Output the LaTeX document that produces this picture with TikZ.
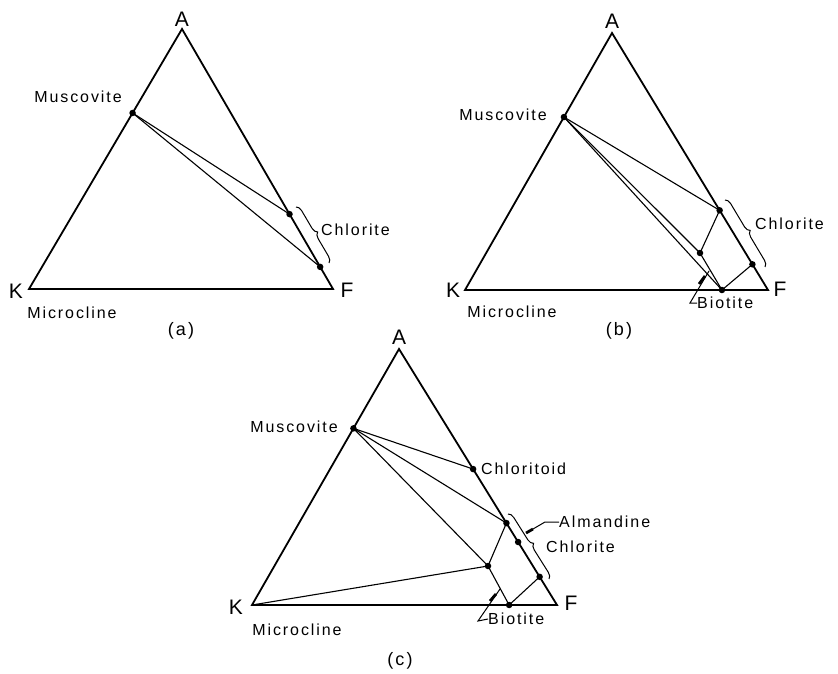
\documentclass[tikz,border=0pt]{standalone}
\usepackage{fontspec}
\setmainfont{Liberation Sans}
\newfontfamily\labfont[LetterSpace=12]{Liberation Sans}
\newfontfamily\vtxfont[LetterSpace=0]{Liberation Sans}
\usetikzlibrary{calc,decorations.pathreplacing}
\begin{document}
\begin{tikzpicture}[x=1pt,y=-1pt,
  edge/.style={line width=1.8pt,line join=miter},
  tie/.style={line width=1.1pt},
  dot/.style={circle,fill,inner sep=0pt,minimum size=6.5pt},
  lbl/.style={font=\labfont\fontsize{16}{19}\selectfont,inner sep=0pt},
  vtx/.style={font=\vtxfont\fontsize{21}{25}\selectfont,inner sep=0pt},
  capt/.style={font=\labfont\fontsize{18}{21}\selectfont,inner sep=0pt},
  brc/.style={decorate,decoration={brace,amplitude=6pt},line width=1pt},
  tick/.style={line width=2.8pt},
  lead/.style={line width=1pt,line join=miter}]
\fill[white] (0,0) rectangle (838,674);
\useasboundingbox (0,0) rectangle (838,674);

% ---------------- (a) ----------------
\coordinate (aK) at (29,289);
\coordinate (aF) at (333,289);
\coordinate (aA) at (182,29);
\draw[edge] (aK) -- (aA) -- (aF) -- cycle;
\node[dot] (aMu) at ($(aK)!0.677!(aA)$) {};
\node[dot] (aC1) at ($(aA)!0.712!(aF)$) {};
\node[dot] (aC2) at ($(aA)!0.915!(aF)$) {};
\draw[tie] (aMu.center) -- (aC1.center);
\draw[tie] (aMu.center) -- (aC2.center);
\coordinate (aB1) at (296,207);
\coordinate (aB2) at (329,263);
\draw[brc] (aB1) -- (aB2);
\node[vtx] (aAL) at (182,19) {A};
\node[vtx] (aKL) at (16,291) {K};
\node[vtx] (aFL) at (347,290) {F};
\node[lbl] (aMuL) at (78,97) {Muscovite};
\node[lbl,anchor=west] (aChL) at (321,230) {Chlorite};
\node[lbl] (aMiL) at (72,313) {Microcline};
\node[capt] (aCap) at (181,331) {(a)};

% ---------------- (b) ----------------
\coordinate (bK) at (465,290);
\coordinate (bF) at (768,290);
\coordinate (bA) at (612,33);
\draw[edge] (bK) -- (bA) -- (bF) -- cycle;
\node[dot] (bMu) at ($(bK)!0.673!(bA)$) {};
\node[dot] (bC1) at ($(bA)!0.69!(bF)$) {};
\node[dot] (bC2) at ($(bA)!0.9!(bF)$) {};
\node[dot] (bBt) at ($(bK)!0.848!(bF)$) {};
\node[dot] (bP) at (700,253) {};
\draw[tie] (bMu.center) -- (bC1.center);
\draw[tie] (bMu.center) -- (bP.center);
\draw[tie] (bMu.center) -- (bBt.center);
\draw[tie] (bP.center) -- (bC1.center);
\draw[tie] (bP.center) -- (bBt.center);
\draw[tie] (bBt.center) -- (bC2.center);
\coordinate (bB1) at (725,200);
\coordinate (bB2) at (765,267);
\draw[brc] (bB1) -- (bB2);
\node[vtx] (bAL) at (612,21) {A};
\node[vtx] (bKL) at (453,290) {K};
\node[vtx] (bFL) at (780,289) {F};
\node[lbl] (bMuL) at (503,115) {Muscovite};
\node[lbl,anchor=west] (bChL) at (755,224) {Chlorite};
\node[lbl] (bMiL) at (512,312) {Microcline};
\node[lbl,anchor=west] (bBtL) at (697,303) {Biotite};
\coordinate (bV) at (690,303);
\coordinate (bT1) at (699,284);
\coordinate (bT2) at (705,276);
\coordinate (bT3) at (709,271);
\draw[lead] (bBtL.west) -- (bV) -- (bT3);
\draw[tick] (bT1) -- (bT2);
\node[capt] (bCap) at (619,331) {(b)};

% ---------------- (c) ----------------
\coordinate (cK) at (252,605);
\coordinate (cF) at (557,605);
\coordinate (cA) at (399,349);
\draw[edge] (cK) -- (cA) -- (cF) -- cycle;
\node[dot] (cMu) at ($(cK)!0.69!(cA)$) {};
\node[dot] (cCd) at ($(cA)!0.469!(cF)$) {};
\node[dot] (cC1) at ($(cA)!0.68!(cF)$) {};
\node[dot] (cAl) at ($(cA)!0.754!(cF)$) {};
\node[dot] (cC2) at ($(cA)!0.89!(cF)$) {};
\node[dot] (cBt) at ($(cK)!0.843!(cF)$) {};
\node[dot] (cP) at (488,566) {};
\draw[tie] (cMu.center) -- (cCd.center);
\draw[tie] (cMu.center) -- (cC1.center);
\draw[tie] (cMu.center) -- (cP.center);
\draw[tie] (cK) -- (cP.center);
\draw[tie] (cP.center) -- (cC1.center);
\draw[tie] (cP.center) -- (cBt.center);
\draw[tie] (cBt.center) -- (cC2.center);
\coordinate (cB1) at (508,514);
\coordinate (cB2) at (549,579);
\draw[brc] (cB1) -- (cB2);
\node[vtx] (cAL) at (399,337) {A};
\node[vtx] (cKL) at (236,607) {K};
\node[vtx] (cFL) at (571,603) {F};
\node[lbl] (cMuL) at (294,427) {Muscovite};
\node[lbl,anchor=west] (cCdL) at (481,469) {Chloritoid};
\node[lbl,anchor=west] (cAlL) at (559,522) {Almandine};
\node[lbl,anchor=west] (cChL) at (546,547) {Chlorite};
\node[lbl] (cMiL) at (297,630) {Microcline};
\node[lbl,anchor=west] (cBtL) at (488,619) {Biotite};
% Almandine leader
\coordinate (cAv) at (545,522);
\coordinate (cAt1) at (533,529);
\coordinate (cAt2) at (526,533);
\draw[lead] (cAlL.west) -- (cAv) -- (cAt1);
\draw[tick] (cAt1) -- (cAt2);
% Biotite leader
\coordinate (cV) at (478,621);
\coordinate (cT1) at (490,601);
\coordinate (cT2) at (496,594);
\coordinate (cT3) at (500,589);
\draw[lead] (cBtL.west) -- (cV) -- (cT3);
\draw[tick] (cT1) -- (cT2);
\node[capt] (cCap) at (400,661) {(c)};
\end{tikzpicture}
\end{document}
